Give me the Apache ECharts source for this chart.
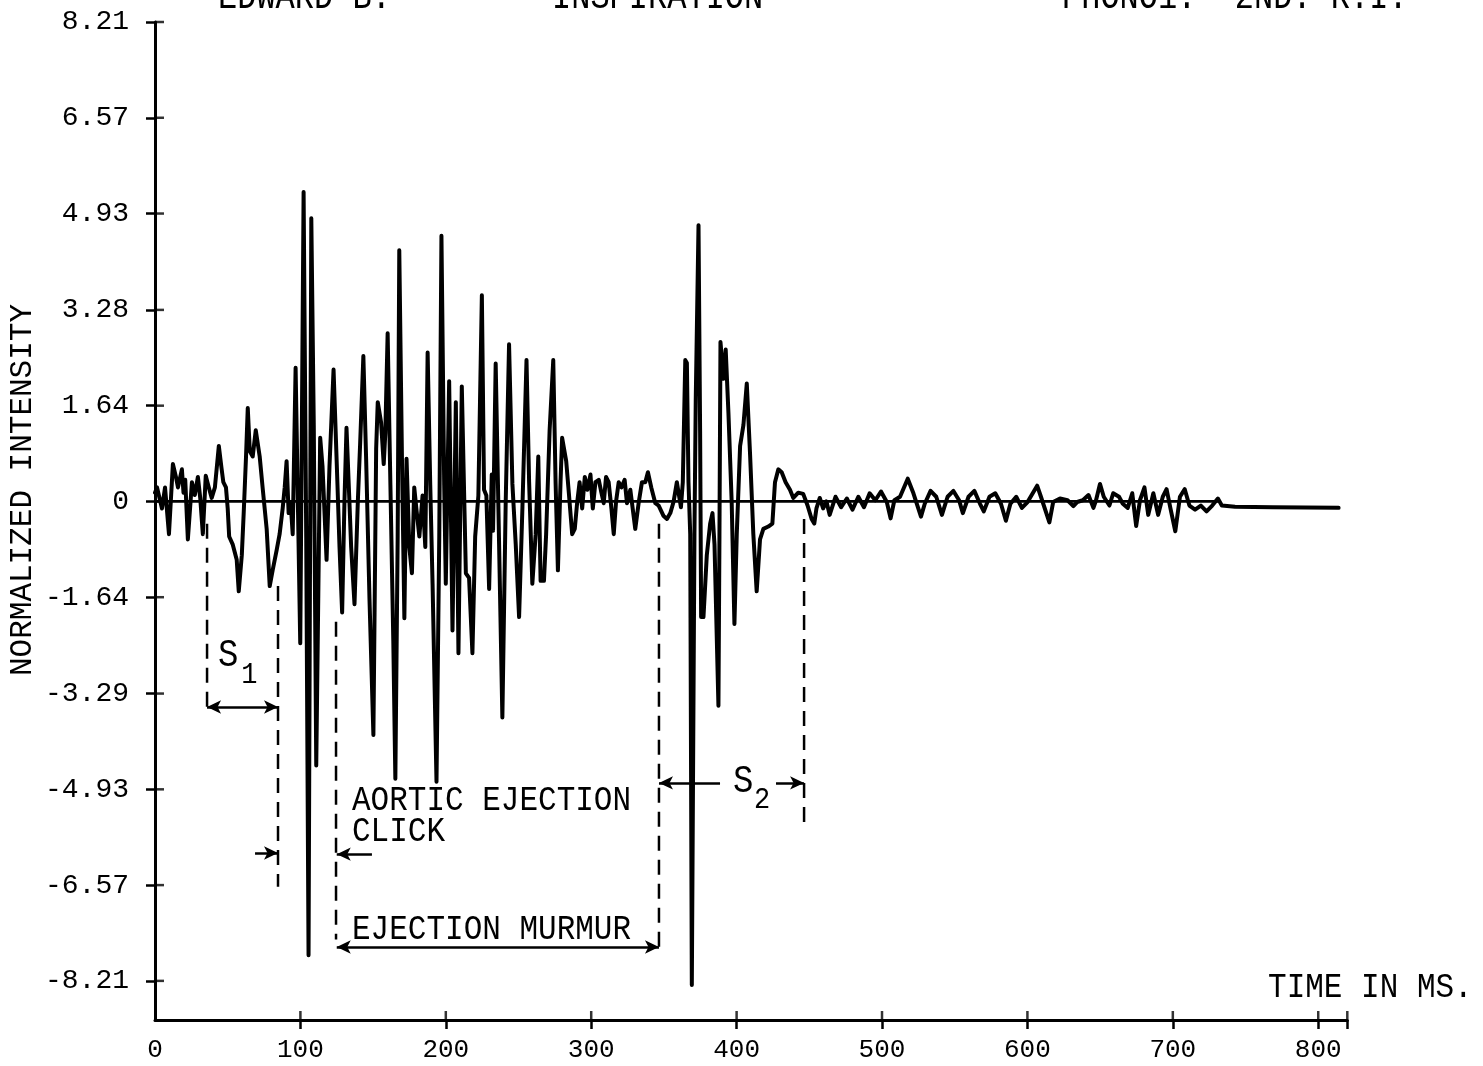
<!DOCTYPE html>
<html>
<head>
<meta charset="utf-8">
<title>Phonocardiogram – Inspiration</title>
<script src="https://cdn.jsdelivr.net/npm/echarts@6/dist/echarts.min.js"></script>
<style>
  html, body { margin: 0; padding: 0; background: #fff; }
  #chart { width: 1483px; height: 1066px; }
</style>
</head>
<body>
<div id="chart"></div>
<script>
// ---- axis ticks ----
const yTickValues = [8.21, 6.57, 4.93, 3.28, 1.64, 0, -1.64, -3.29, -4.93, -6.57, -8.21];
const xTickLabels = [0, 100, 200, 300, 400, 500, 600, 700, 800];
const xTickMarks = [100, 200, 300, 400, 500, 600, 700, 800, 820];
const X_MIN = 0, X_MAX = 820;
const Y_MIN = -8.88, Y_MAX = 8.21;

// ---- trace: [time in ms, normalized intensity] ----
const firstSound = [
  [0,0.15],[1.4,0.24],[4.8,-0.12],[6.9,0.24],[9.6,-0.56],[12.3,0.64],[14.4,0.42],[15.8,0.24],
  [18.5,0.55],[19.6,0.15],[20.8,0.37],[22.6,-0.65],[25.4,0.33],[27.4,0.11],[29.5,0.42],[31.1,0.06],
  [32.9,-0.56],[34.9,0.44],[37,0.24],[39,0.06],[41.2,0.24],[43.9,0.95],[45.6,0.6],[47,0.33],
  [48.8,0.24],[50,-0.12],[51,-0.6],[53.5,-0.74],[56.2,-1.0],[57.6,-1.54],[59.7,-0.92],[61,-0.2],
  [62.6,0.77],[63.8,1.6],[65.2,0.86],[67.2,0.77],[69.3,1.22],[70.6,1.22],[72,0.77],[74,0.24],
  [76.8,-0.47],[78.9,-1.45],[80.9,-1.18],[83.7,-0.83],[85.7,-0.56],[87.8,-0.12],[89.2,0.24],
  [90.5,0.69],[91.9,-0.2],[93.3,-0.03],[94.7,-0.56]
];
const ejectionEarly = [
  [96.7,2.29],[99.9,-2.43],[102.2,5.3],[104,-0.6],[105.6,-7.77],[107.5,4.85],[109.2,1.3],
  [110.9,-4.52],[113.6,1.09],[115.2,0.6],[118,-1.0],[120,0.6],[122.8,2.26],[125.5,0.28],
  [126.9,-0.78],[128.7,-1.9],[130.3,0],[131.7,1.26],[133.7,0],[134.9,-0.78],[137.2,-1.76],
  [139.5,0],[141.1,1.0],[143.3,2.49],[145.2,0.73],[147.5,-1.66],[150.2,-4.0],[152.1,0.9],
  [153.2,1.7],[155.5,1.35],[157.3,0.64],[158.4,1.17],[160,2.88],[161.9,0.28],[163.9,-2.4],
  [165.3,-4.75],[166.9,-0.6],[168,4.3],[169.9,0.64],[171.5,-2.0],[173,0.73],[174.9,-0.78],
  [176.7,-1.23],[178.3,0.24],[179.9,-0.16],[181.8,-0.6],[184,0.1],[185.9,-0.78],[187.5,2.55],
  [189.3,0.28],[190.9,-1.41],[193.6,-4.8],[195.5,-0.6],[197,4.55],[198.9,0.28],[200,-1.41],
  [202.3,2.06],[204.6,-2.21],[206.9,1.7],[208.7,-2.6],[211,1.97],[213.8,-1.23],[216,-1.31],
  [218.3,-2.6],[220.2,-0.6],[222.4,0.1],[224.8,3.53],[226.3,0.2],[227.9,0.1],[229.8,-1.5],
  [231.6,0.46],[232.5,-0.5],[234.3,2.36]
];
const ejectionLate = [
  [238.9,-3.7],[241.2,0],[243.5,2.69],[245.8,0.3],[248.1,-0.74],[250.4,-1.98],[252.7,-0.1],
  [255.5,2.42],[257.3,0.33],[259.5,-1.41],[261.8,-0.56],[263.6,0.77],[265.2,-1.36],[267.5,-1.36],
  [269,-0.56],[271.4,1.22],[273.9,2.42],[275.5,0.33],[277.1,-1.18],[278.9,0.33],[280,1.09],
  [282.8,0.69],[284.6,0.15],[286.9,-0.56],[288.7,-0.47],[290.3,-0.03],[292,0.33],[293.8,-0.12],
  [295.6,0.42],[297.4,0.2],[299.5,0.46],[301.1,-0.12],[302.9,0.33],[305.2,0.37],[307,0.15],
  [308.6,-0.03],[310.2,0.42],[312,0.33],[313.9,-0.12],[315.5,-0.56],[317.1,0],[318.9,0.33],
  [320.8,0.24],[323,0.37],[324.6,-0.03],[326.9,0.2],[330.3,-0.47],[332.6,-0.03],[334.9,0.33],
  [337.2,0.33],[339,0.5],[341.3,0.24],[344.1,-0.03]
];
const secondSound = [
  [346.4,-0.07],[349.8,-0.25],[352.1,-0.3],[354.4,-0.2],[356.7,0],[358.9,0.33],[360.1,0.33],
  [361.7,-0.1],[363,0.33],[364.7,2.42],[365.8,2.37],[366.9,0.33],[368.1,-0.56],[369.2,-8.28],
  [371,-0.56],[371.9,1.75],[373.8,4.73],[374.9,1.2],[375.6,-1.98],[377.2,-1.98],[379.5,-0.92],
  [381.8,-0.38],[383.4,-0.2],[384.8,-0.74],[387.5,-3.5],[388.2,-0.6],[388.9,2.73],[391,2.1],
  [392.5,2.6],[394.4,1.5],[396.6,0],[398.5,-2.1],[400.1,-0.56],[402.4,0.95],[404.7,1.31],
  [407,2.02],[409.3,0.78],[411.5,-0.56],[413.8,-1.54],[416.1,-0.65],[418.4,-0.47],[421.8,-0.43],
  [424.6,-0.38],[426.4,0.33],[428.7,0.55],[431,0.5],[433.7,0.33],[436.7,0.2],[439,0.06],
  [442.4,0.15],[445.8,0.13],[448.8,-0.07],[451.6,-0.3],[453.4,-0.38],[454.9,-0.12],[457.2,0.06],
  [459.5,-0.12],[461.8,0]
];
const diastole = [
  [464,-0.23],[468,0.08],[471.9,-0.1],[475.8,0.05],[479.7,-0.14],[483.7,0.08],[487.6,-0.1],
  [491.5,0.14],[495.4,0.02],[499.3,0.17],[503.3,-0.01],[505.9,-0.29],[508.5,0.02],[512.4,0.08],
  [517.7,0.39],[521.6,0.14],[526.8,-0.26],[529.4,-0.04],[533.4,0.18],[537.3,0.08],[541.2,-0.23],
  [545.1,0.08],[549.1,0.18],[553,0.02],[555.6,-0.2],[559.5,0.08],[563.5,0.18],[567.4,-0.04],
  [570,-0.17],[573.9,0.08],[577.9,0.14],[581.8,-0.04],[585.2,-0.33],[588.3,-0.04],[592.3,0.08],
  [596.2,-0.11],[600.1,-0.01],[606.7,0.27],[609.3,0.08],[615.1,-0.36],[617.7,-0.01],[622.4,0.05],
  [627.6,0.02],[631.6,-0.08],[634.2,-0.01],[638.1,0.02],[642,0.11],[645.4,-0.11],[647.2,0.02],
  [649.9,0.3],[652.5,0.08],[656.4,-0.07],[659,0.14],[663,0.08],[665.6,-0.04],[669,-0.11],
  [672.1,0.14],[674.8,-0.42],[677.4,0.02],[680.5,0.24],[683.1,-0.23],[686.6,0.14],[689.9,-0.23],
  [693.1,0.08],[695.7,0.21],[698.3,-0.11],[701.7,-0.51],[704.9,0.08],[708.2,0.21],[711.4,-0.07],
  [715.3,-0.14],[719.3,-0.07],[723.2,-0.17],[727.1,-0.07],[731,0.05],[733.7,-0.07],[742.8,-0.09],
  [768.9,-0.1],[814,-0.11]
];
const zeroLine = [[0, 0], [732, 0]];

// ---- event markers: [ms, upper value, lower value] ----
const boundaryLines = [
  [35.8, -0.38, -3.6],
  [84.6, -1.45, -6.6],
  [124.5, -2.06, -7.5],
  [346.6, -0.38, -7.7],
  [446.4, -0.3, -5.5]
];
// interval arrows: [from ms, to ms, value, heads]
const spanArrows = [
  [35.8, 84.6, -3.52, 'both'],
  [68.8, 84.6, -6.02, 'end'],
  [149.2, 125.0, -6.04, 'end'],
  [125.0, 346.6, -7.63, 'both'],
  [388.6, 346.6, -4.82, 'end'],
  [427.1, 446.4, -4.82, 'end']
];
// labels placed at [ms, value]
const eventLabels = [
  ['S', 43.3, -2.64, 34],
  ['1', 59.3, -2.98, 27],
  ['AORTIC EJECTION', 135.5, -5.13, 31],
  ['CLICK', 135.5, -5.66, 31],
  ['EJECTION MURMUR', 135.5, -7.34, 31],
  ['S', 397.5, -4.8, 34],
  ['2', 412.0, -5.12, 27],
  ['TIME IN MS.', 765.5, -8.33, 31]
];
const headerTexts = [
  ['EDWARD B.', 218],
  ['INSPIRATION', 552],
  ['PHONO1:  2ND. R.I.', 1062]
];

const MONO = "'Liberation Mono', 'Courier New', monospace";
const INK = '#000';
const TICK_LEN = 9;

const chart = echarts.init(document.getElementById('chart'), null, { renderer: 'canvas' });

function fmtY(v) {
  return Math.abs(v) < 1e-9 ? '0' : v.toFixed(2);
}

const traceData = [].concat(firstSound, ejectionEarly, ejectionLate, secondSound, diastole);

const markerSeries = boundaryLines.map(([ms, top, bottom]) => ({
  type: 'line',
  data: [[ms, top], [ms, bottom]],
  showSymbol: false,
  silent: true,
  lineStyle: { color: INK, width: 2.5, type: [15, 9] },
  z: 3
}));

const arrowLines = spanArrows.map(([x1, x2, y, heads]) => ([
  { coord: [x1, y], symbol: heads === 'both' ? 'arrow' : 'none' },
  { coord: [x2, y], symbol: 'arrow' }
]));

// inner halves of the cross-shaped ticks (outer halves come from axisTick)
const tickSeries = [
  {
    type: 'scatter',
    data: xTickMarks.map(v => [v, Y_MIN]),
    symbol: 'rect', symbolSize: [2.5, TICK_LEN], symbolOffset: [0, -TICK_LEN / 2],
    itemStyle: { color: INK }, silent: true, clip: false, z: 5
  },
  {
    type: 'scatter',
    data: yTickValues.map(v => [X_MIN, v]),
    symbol: 'rect', symbolSize: [TICK_LEN, 2.5], symbolOffset: [TICK_LEN / 2, 0],
    itemStyle: { color: INK }, silent: true, clip: false, z: 5
  }
];

const option = {
  backgroundColor: '#fff',
  animation: false,
  grid: { left: 155, top: 22, width: 1192.3, height: 998, containLabel: false },
  xAxis: {
    type: 'value', min: X_MIN, max: X_MAX, interval: 100, position: 'bottom',
    axisLine: { show: true, onZero: false, lineStyle: { color: INK, width: 3 } },
    axisTick: { show: true, customValues: xTickMarks, length: TICK_LEN, inside: false, lineStyle: { color: INK, width: 2.5 } },
    axisLabel: { customValues: xTickLabels, color: INK, fontFamily: MONO, fontSize: 26, margin: 17 },
    splitLine: { show: false }
  },
  yAxis: {
    type: 'value', min: Y_MIN, max: Y_MAX, position: 'left',
    axisLine: { show: true, onZero: false, lineStyle: { color: INK, width: 3 } },
    axisTick: { show: true, customValues: yTickValues, length: TICK_LEN, inside: false, lineStyle: { color: INK, width: 2.5 } },
    axisLabel: { customValues: yTickValues, formatter: fmtY, color: INK, fontFamily: MONO, fontSize: 28, margin: 26 },
    splitLine: { show: false }
  },
  series: [
    {
      name: 'zero line',
      type: 'line',
      data: zeroLine,
      showSymbol: false,
      silent: true,
      lineStyle: { color: INK, width: 2.8 },
      z: 2,
      markLine: {
        silent: true,
        symbolSize: [10, 14],
        label: { show: false },
        lineStyle: { color: INK, width: 2.5, type: 'solid' },
        data: arrowLines
      }
    },
    {
      name: 'intensity',
      type: 'line',
      data: traceData,
      showSymbol: false,
      silent: true,
      sampling: null,
      lineStyle: { color: INK, width: 4, join: 'round', cap: 'round' },
      z: 4
    }
  ].concat(markerSeries, tickSeries)
};

chart.setOption(option);

// text annotations, anchored in data space
const labelGraphics = eventLabels.map(([txt, ms, v, size]) => {
  const [px, py] = chart.convertToPixel({ gridIndex: 0 }, [ms, v]);
  return {
    type: 'text', x: px, y: py, scaleY: 1.12, silent: true,
    style: { text: txt, fill: INK, font: size + 'px ' + MONO, textAlign: 'left', textVerticalAlign: 'middle' }
  };
});

const headerGraphics = headerTexts.map(([txt, px]) => ({
  type: 'text', x: px, y: -2, scaleY: 1.2, silent: true,
  style: { text: txt, fill: INK, font: '32px ' + MONO, textAlign: 'left', textVerticalAlign: 'middle' }
}));

const axisTitle = {
  type: 'text', x: 23, y: 490, rotation: Math.PI / 2, silent: true,
  style: { text: 'NORMALIZED INTENSITY', fill: INK, font: '31px ' + MONO, textAlign: 'center', textVerticalAlign: 'middle' }
};

chart.setOption({ graphic: labelGraphics.concat(headerGraphics, [axisTitle]) });
</script>
</body>
</html>
